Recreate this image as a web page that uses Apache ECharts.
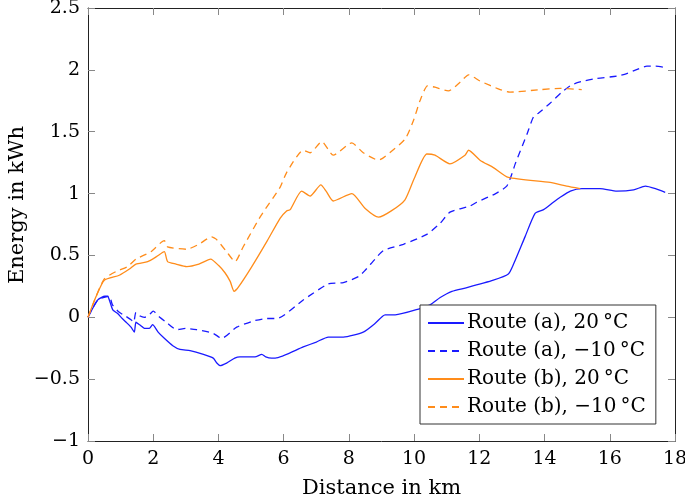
<!DOCTYPE html>
<html>
<head>
<meta charset="utf-8">
<script src="https://cdn.jsdelivr.net/npm/echarts@6/dist/echarts.min.js"></script>
<style>
  html, body { margin: 0; padding: 0; background: #fff; }
  #chart { width: 685px; height: 495px; }
</style>
</head>
<body>
<div id="chart"></div>
<script>
const seriesNames = ['Route (a), 20\u2009°C', 'Route (a), \u221210\u2009°C', 'Route (b), 20\u2009°C', 'Route (b), \u221210\u2009°C'];
const xTicks = [0, 2, 4, 6, 8, 10, 12, 14, 16, 18];
const yTicks = [-1, -0.5, 0, 0.5, 1, 1.5, 2, 2.5];

const routeA20 = [[0,0],[0.3,0.14],[0.52,0.17],[0.6,0.17],[0.68,0.12],[0.76,0.06],[0.91,0.03],[1.05,-0.01],[1.17,-0.04],[1.32,-0.08],[1.42,-0.12],[1.47,-0.04],[1.58,-0.06],[1.75,-0.09],[1.88,-0.09],[1.98,-0.06],[2.15,-0.12],[2.34,-0.17],[2.6,-0.23],[2.82,-0.26],[3.13,-0.27],[3.54,-0.30],[3.84,-0.33],[3.95,-0.37],[4.05,-0.39],[4.25,-0.37],[4.5,-0.33],[4.66,-0.32],[5.12,-0.32],[5.33,-0.30],[5.45,-0.32],[5.63,-0.33],[5.74,-0.33],[6.6,-0.24],[7.0,-0.20],[7.37,-0.16],[7.83,-0.16],[8.44,-0.12],[8.8,-0.05],[9.11,0.02],[9.42,0.02],[10.18,0.07],[10.49,0.10],[10.8,0.16],[11.16,0.21],[11.62,0.24],[12.43,0.30],[12.89,0.35],[13.05,0.43],[13.4,0.65],[13.71,0.84],[13.97,0.87],[14.27,0.93],[14.48,0.97],[14.79,1.02],[15.14,1.04],[15.7,1.04],[16.22,1.02],[16.73,1.03],[17.09,1.06],[17.4,1.04],[17.7,1.01]];

const routeAm10 = [[0,0],[0.3,0.14],[0.65,0.17],[0.75,0.10],[0.96,0.04],[1.15,0.01],[1.32,-0.02],[1.40,-0.04],[1.47,0.04],[1.6,0.01],[1.73,0.0],[1.88,0.02],[2.0,0.05],[2.2,0.0],[2.4,-0.04],[2.72,-0.10],[3.0,-0.09],[3.33,-0.10],[3.84,-0.13],[4.1,-0.17],[4.56,-0.08],[5.07,-0.03],[5.48,-0.01],[5.79,-0.01],[6.6,0.14],[7.37,0.27],[7.83,0.28],[8.3,0.33],[8.5,0.38],[8.8,0.47],[9.06,0.54],[9.67,0.59],[10.39,0.67],[10.8,0.76],[11.1,0.85],[11.72,0.90],[11.92,0.93],[12.5,1.0],[12.84,1.06],[13.0,1.16],[13.1,1.24],[13.46,1.48],[13.66,1.62],[13.81,1.65],[14.17,1.73],[14.53,1.82],[14.84,1.88],[15.2,1.91],[15.6,1.93],[16.22,1.95],[16.52,1.97],[16.8,2.0],[17.14,2.03],[17.4,2.03],[17.7,2.02]];

const routeB20 = [[0,0],[0.25,0.17],[0.5,0.30],[0.96,0.34],[1.27,0.39],[1.47,0.43],[1.83,0.45],[2.1,0.49],[2.34,0.53],[2.44,0.45],[2.7,0.43],[3.03,0.41],[3.4,0.43],[3.76,0.47],[4.0,0.42],[4.2,0.36],[4.36,0.29],[4.48,0.21],[4.6,0.24],[5.0,0.40],[5.5,0.62],[5.89,0.80],[6.09,0.86],[6.2,0.87],[6.55,1.02],[6.81,0.98],[7.14,1.07],[7.3,1.02],[7.52,0.94],[8.09,1.0],[8.5,0.88],[8.91,0.81],[9.3,0.86],[9.72,0.95],[10.0,1.12],[10.39,1.32],[10.64,1.31],[11.1,1.24],[11.56,1.31],[11.67,1.35],[12.02,1.27],[12.43,1.21],[12.89,1.13],[14.17,1.09],[14.68,1.06],[15.09,1.04]];

const routeBm10 = [[0,0],[0.25,0.17],[0.5,0.31],[0.86,0.37],[1.22,0.41],[1.47,0.47],[1.93,0.53],[2.34,0.62],[2.44,0.57],[3.03,0.55],[3.4,0.59],[3.79,0.65],[3.94,0.63],[4.25,0.53],[4.51,0.45],[4.76,0.57],[5.3,0.82],[5.89,1.05],[6.09,1.17],[6.6,1.35],[6.81,1.33],[7.17,1.42],[7.52,1.31],[8.09,1.41],[8.44,1.33],[8.91,1.27],[9.11,1.30],[9.72,1.44],[9.98,1.59],[10.18,1.75],[10.41,1.87],[10.64,1.86],[11.05,1.83],[11.41,1.90],[11.67,1.96],[12.02,1.91],[12.64,1.84],[12.94,1.82],[13.87,1.84],[14.48,1.85],[15.14,1.84]];

const FONT = 'DejaVu Serif';
const BLUE = '#1a1aff';
const ORANGE = '#ff8c1a';
const fmt = v => String(v).replace('-', '\u2212');

const chart = echarts.init(document.getElementById('chart'), null, { renderer: 'canvas' });

const tickStyle = { show: true, inside: true, length: 7, lineStyle: { color: '#888', width: 1 } };
const lineAxis = { show: true, onZero: false, lineStyle: { color: '#222', width: 1 } };

function mkSeries(name, data, color, dashed) {
  return {
    name: name, type: 'line', data: data, showSymbol: false, symbol: 'none',
    smooth: 0.2, animation: false,
    lineStyle: { color: color, width: 1.3, type: dashed ? [7, 5] : 'solid' },
    itemStyle: { color: color }
  };
}

chart.setOption({
  animation: false,
  backgroundColor: '#fff',
  grid: { left: 88, right: 10, top: 8, bottom: 54, containLabel: false, outerBoundsMode: 'none' },
  xAxis: [
    {
      type: 'value', min: 0, max: 18, interval: 2, position: 'bottom',
      name: 'Distance in km', nameLocation: 'middle', nameGap: 37,
      nameTextStyle: { fontFamily: FONT, fontSize: 21, color: '#000' },
      axisLine: lineAxis, axisTick: tickStyle, splitLine: { show: false },
      axisLabel: { fontFamily: FONT, fontSize: 19, color: '#000', margin: 9, formatter: fmt }
    },
    {
      type: 'value', min: 0, max: 18, interval: 2, position: 'top',
      axisLine: lineAxis, axisTick: tickStyle, splitLine: { show: false },
      axisLabel: { show: false }
    }
  ],
  yAxis: [
    {
      type: 'value', min: -1, max: 2.5, interval: 0.5, position: 'left',
      axisLine: lineAxis, axisTick: tickStyle, splitLine: { show: false },
      axisLabel: { fontFamily: FONT, fontSize: 19, color: '#000', margin: 8, formatter: fmt }
    },
    {
      type: 'value', min: -1, max: 2.5, interval: 0.5, position: 'right',
      axisLine: lineAxis, axisTick: tickStyle, splitLine: { show: false },
      axisLabel: { show: false }
    }
  ],
  legend: {
    orient: 'vertical', left: 420, top: 305,
    padding: [8, 10, 7, 7], itemGap: 8, itemWidth: 36, itemHeight: 10,
    borderColor: '#333', borderWidth: 1, backgroundColor: '#fff',
    itemStyle: { opacity: 0 },
    textStyle: { fontFamily: FONT, fontSize: 20, color: '#000', padding: [0, 0, 0, -2] },
    data: seriesNames.map(n => ({ name: n }))
  },
  graphic: [
    {
      type: 'text', x: 18, y: 205, rotation: Math.PI / 2,
      style: { text: 'Energy in kWh', font: '21px "DejaVu Serif"', fill: '#000', align: 'center', verticalAlign: 'middle' }
    }
  ],
  series: [
    mkSeries(seriesNames[0], routeA20, BLUE, false),
    mkSeries(seriesNames[1], routeAm10, BLUE, true),
    mkSeries(seriesNames[2], routeB20, ORANGE, false),
    mkSeries(seriesNames[3], routeBm10, ORANGE, true)
  ]
});
</script>
</body>
</html>
